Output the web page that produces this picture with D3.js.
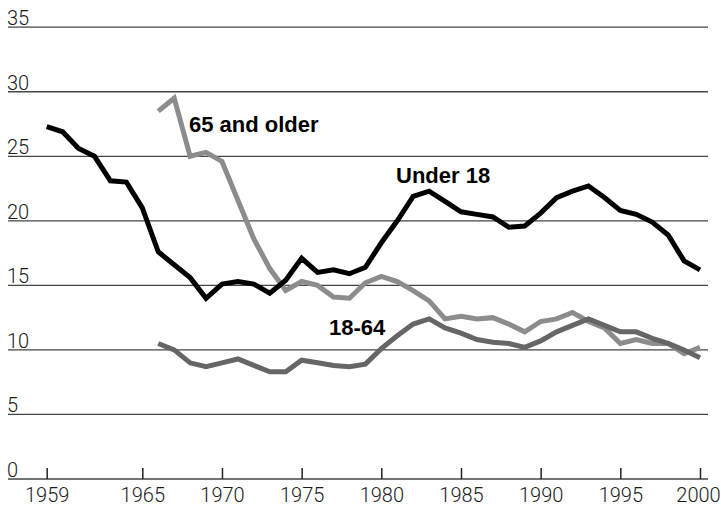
<!DOCTYPE html>
<html>
<head>
<meta charset="utf-8">
<script src="https://cdn.jsdelivr.net/npm/d3@7"></script>
<style>
  body { margin: 0; background: #fff; }
  .tick-label { font-family: Roboto, "Liberation Sans", sans-serif; font-weight: 300; font-size: 20px; fill: #1a1a1a; }
  .series-label { font-family: "Liberation Sans", Arial, sans-serif; font-size: 22px; font-weight: bold; fill: #000; }
</style>
</head>
<body>
<div id="chart"></div>
<script>
// poverty rate (%) by age group, 1959-2000
var yearsAll = d3.range(1959, 2001);
var yearsLater = d3.range(1966, 2001);

var under18 = [27.3, 26.9, 25.6, 25.0, 23.1, 23.0, 21.0, 17.6, 16.6, 15.6, 14.0,
  15.1, 15.3, 15.1, 14.4, 15.4, 17.1, 16.0, 16.2, 15.9, 16.4,
  18.3, 20.0, 21.9, 22.3, 21.5, 20.7, 20.5, 20.3, 19.5, 19.6,
  20.6, 21.8, 22.3, 22.7, 21.8, 20.8, 20.5, 19.9, 18.9, 16.9, 16.2];

var age65plus = [28.5, 29.5, 25.0, 25.3,
  24.6, 21.6, 18.6, 16.3, 14.6, 15.3, 15.0, 14.1, 14.0, 15.2,
  15.7, 15.3, 14.6, 13.8, 12.4, 12.6, 12.4, 12.5, 12.0, 11.4,
  12.2, 12.4, 12.9, 12.2, 11.7, 10.5, 10.8, 10.5, 10.5, 9.7, 10.2];

var age18to64 = [10.5, 10.0, 9.0, 8.7,
  9.0, 9.3, 8.8, 8.3, 8.3, 9.2, 9.0, 8.8, 8.7, 8.9,
  10.1, 11.1, 12.0, 12.4, 11.7, 11.3, 10.8, 10.6, 10.5, 10.2,
  10.7, 11.4, 11.9, 12.4, 11.9, 11.4, 11.4, 10.9, 10.5, 10.0, 9.4];

var yTicks = [0, 5, 10, 15, 20, 25, 30, 35];
var xTicks = [1959, 1965, 1970, 1975, 1980, 1985, 1990, 1995, 2000];

var svgWidth = 721;
var svgHeight = 507;

var svg = d3.select("#chart")
  .append("svg")
  .attr("width", svgWidth)
  .attr("height", svgHeight);

var xScale = d3.scaleLinear()
  .domain([1959, 2000])
  .range([46.7, 700]);

var yScale = d3.scaleLinear()
  .domain([0, 35])
  .range([479, 27.2]);

var gridLeft = 8;
var gridRight = 708;

// horizontal gridlines
svg.append("g")
  .selectAll("line")
  .data(yTicks)
  .enter()
  .append("line")
  .attr("x1", gridLeft)
  .attr("x2", gridRight)
  .attr("y1", d => yScale(d))
  .attr("y2", d => yScale(d))
  .attr("stroke", "#444")
  .attr("stroke-width", 1.3);

// y labels sit on top of the gridlines
svg.append("g")
  .selectAll("text")
  .data(yTicks)
  .enter()
  .append("text")
  .attr("class", "tick-label")
  .attr("x", gridLeft - 1)
  .attr("y", d => yScale(d) - 2)
  .text(d => d);

// x axis ticks (pointing up) and labels
var xAxis = d3.axisBottom(xScale)
  .tickValues(xTicks)
  .tickFormat(d3.format("d"))
  .tickSizeInner(-11)
  .tickSizeOuter(0);

var xAxisGroup = svg.append("g")
  .attr("transform", `translate(0, ${yScale(0)})`)
  .call(xAxis);

xAxisGroup.attr("font-family", null).attr("font-size", null);
xAxisGroup.select(".domain").remove();
xAxisGroup.selectAll(".tick line")
  .attr("stroke", "#222")
  .attr("stroke-width", 1.5);
xAxisGroup.selectAll(".tick text")
  .attr("class", "tick-label")
  .attr("fill", null)
  .attr("y", 23)
  .attr("dy", null)
  // last label would run past the right edge
  .attr("x", d => d === 2000 ? -2 : 0);

var line = d3.line()
  .x(d => xScale(d[0]))
  .y(d => yScale(d[1]));

function addSeries(years, values, color) {
  svg.append("path")
    .datum(d3.zip(years, values))
    .attr("d", line)
    .attr("fill", "none")
    .attr("stroke", color)
    .attr("stroke-width", 5)
    .attr("stroke-linejoin", "miter")
    .attr("stroke-linecap", "butt");
}

addSeries(yearsLater, age65plus, "#8c8c8c");
addSeries(yearsLater, age18to64, "#666666");
addSeries(yearsAll, under18, "#000000");

// series labels
svg.append("text").attr("class", "series-label").attr("x", 189).attr("y", 132).text("65 and older");
svg.append("text").attr("class", "series-label").attr("x", 396).attr("y", 183).text("Under 18");
svg.append("text").attr("class", "series-label").attr("x", 329).attr("y", 335).text("18-64");
</script>
</body>
</html>
